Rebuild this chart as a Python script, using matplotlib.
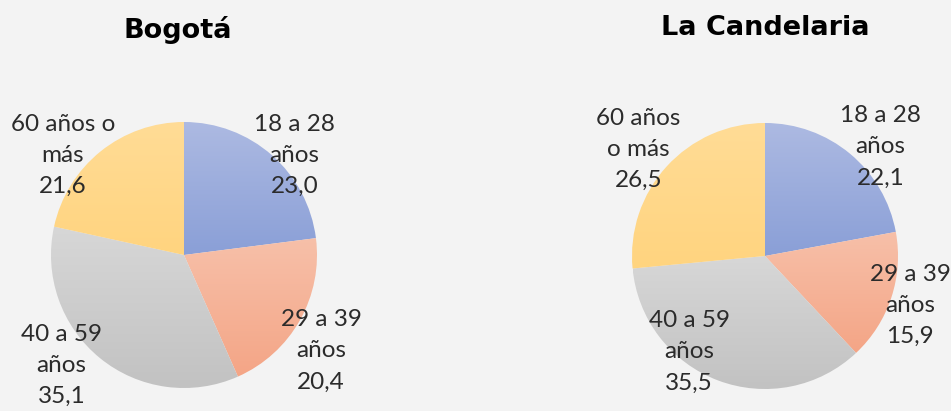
import numpy as np
import matplotlib
matplotlib.use("Agg")
import matplotlib.pyplot as plt
from matplotlib.colors import to_rgb

# datos
titulos = ["Bogotá", "La Candelaria"]
grupos = ["18 a 28\naños", "29 a 39\naños", "40 a 59\naños", "60 años o\nmás"]
grupos_cand = ["18 a 28\naños", "29 a 39\naños", "40 a 59\naños", "60 años\no más"]
bogota = [23.0, 20.4, 35.1, 21.6]
candelaria = [22.1, 15.9, 35.5, 26.5]

# colores (arriba, abajo) para el degradado
colores = [("#adbae2", "#8a9fd7"),
           ("#f7c0a9", "#f4a586"),
           ("#d7d7d7", "#c2c2c2"),
           ("#ffdc96", "#ffd47f")]

# posiciones de etiquetas (en radios)
pos_bog = [(0.83, 0.75), (1.03, -0.72), (-0.92, -0.83), (-0.91, 0.75)]
pos_cand = [(0.87, 0.82), (1.09, -0.37), (-0.57, -0.72), (-0.95, 0.80)]

fig = plt.figure(figsize=(9.51, 4.11), dpi=100)
fig.patch.set_facecolor("#f3f3f3")

R = 133.0  # px por unidad
W = 475.5
H = 411.0


def dibujar(ax, valores, etiquetas, posiciones, titulo, cx, cy_top, tx, ty_top):
    # cx: px desde la izquierda del eje, cy_top: px desde arriba
    ax.axis("off")
    ax.patch.set_alpha(0)
    wedges, _ = ax.pie(valores, startangle=90, counterclock=False, radius=1,
                       wedgeprops=dict(linewidth=0))
    for w, (c1, c2) in zip(wedges, colores):
        ext = w.get_path().get_extents()
        grad = np.linspace(0, 1, 256)[:, None]
        a, b = np.array(to_rgb(c1)), np.array(to_rgb(c2))
        img = a[None, None, :] * (1 - grad[:, :, None]) + b[None, None, :] * grad[:, :, None]
        im = ax.imshow(img, extent=[ext.x0, ext.x1, ext.y0, ext.y1],
                       origin="upper", aspect="auto", zorder=w.get_zorder())
        im.set_clip_path(w)
        w.set_facecolor("none")
    for v, lab, (px, py) in zip(valores, etiquetas, posiciones):
        ax.text(px, py, f"{lab}\n{v:.1f}".replace(".", ","), ha="center", va="center",
                fontsize=17.5, family="Lato", color="#2b2b2b", linespacing=1.6, zorder=5)
    ax.text(tx, (cy_top - ty_top) / R, titulo, ha="center", va="center",
            fontsize=19.5, family="DejaVu Sans", fontweight="bold", color="black")
    ax.set_xlim(-cx / R, (W - cx) / R)
    ax.set_ylim(-(H - cy_top) / R, cy_top / R)
    ax.set_aspect("auto")


ax1 = fig.add_axes([0, 0, 0.5, 1])
dibujar(ax1, bogota, grupos, pos_bog, titulos[0], 184, 255, -0.05, 30)
ax2 = fig.add_axes([0.5, 0, 0.5, 1])
dibujar(ax2, candelaria, grupos_cand, pos_cand, titulos[1], 765 - W, 256, 0.0, 28)

fig.savefig("out.png", dpi=100, facecolor=fig.get_facecolor())
